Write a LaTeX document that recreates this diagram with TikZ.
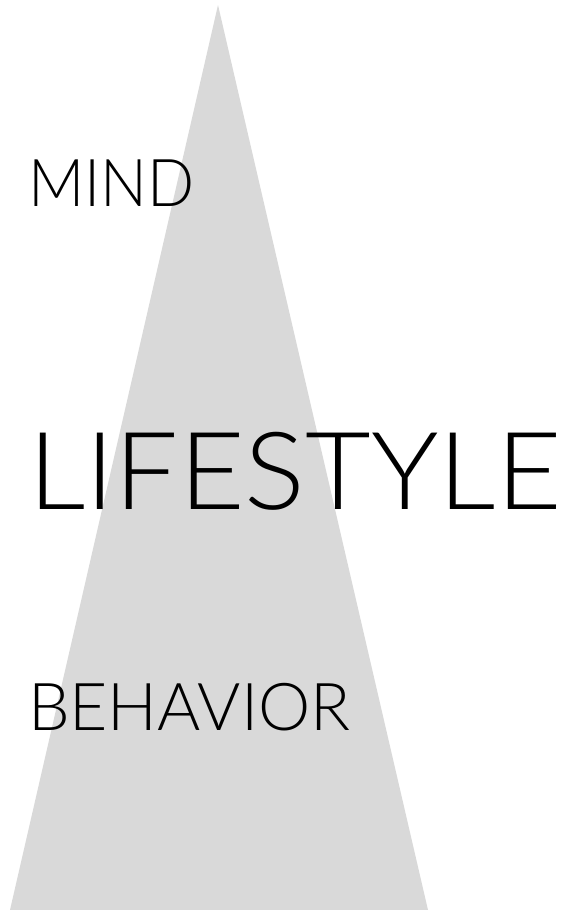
\documentclass[tikz,border=0pt]{standalone}
\usepackage{fontspec}
\newfontfamily\thinfont{Lato Light}
\definecolor{tri}{HTML}{D9D9D9}
\tikzset{
  lbl/.style={anchor=base west, inner sep=0pt, outer sep=0pt, text=black, font=\thinfont},
}
\begin{document}
\begin{tikzpicture}[x=1pt,y=-1pt]
\useasboundingbox (0,0) rectangle (562,910);
\fill[tri] (218,5) -- (428,910) -- (10,910) -- cycle;
\node[lbl, font=\thinfont\fontsize{66}{66}\selectfont] (mind) at (28,206) {\scalebox{0.94}[1]{MIND}};
\node[lbl, font=\thinfont\fontsize{108}{108}\selectfont] (life) at (28,509) {\scalebox{1.05}[1]{LIFESTYLE}};
\node[lbl, font=\thinfont\fontsize{66}{66}\selectfont] (beh) at (28,730) {BEHAVIOR};
\end{tikzpicture}
\end{document}
